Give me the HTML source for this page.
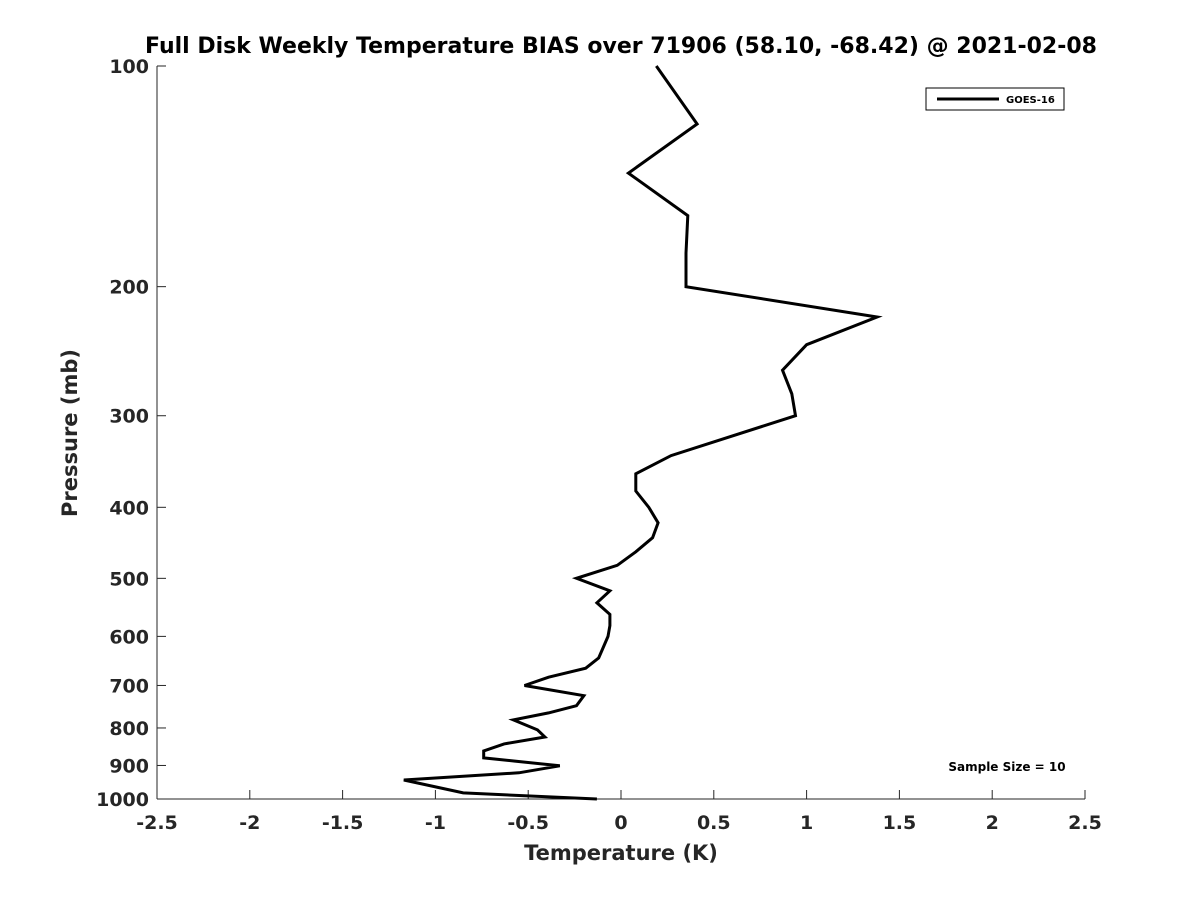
<!DOCTYPE html>
<html><head><meta charset="utf-8"><style>
html,body{margin:0;padding:0;background:#fff;}
svg{display:block;font-family:"DejaVu Sans","Liberation Sans",sans-serif;}
</style></head><body>
<svg id="chart" width="1200" height="900" viewBox="0 0 1200 900">
<text x="621" y="53" text-anchor="middle" font-size="22" font-weight="bold">Full Disk Weekly Temperature BIAS over 71906 (58.10, -68.42) @ 2021-02-08</text>
<g id="axes"></g>
<g id="series"></g>
<g>
<rect x="926" y="88" width="138" height="22" fill="#fff" stroke="#000" stroke-width="1"/>
<line x1="937" y1="99" x2="999" y2="99" stroke="#000" stroke-width="3"/>
<text x="1006" y="103" font-size="10" font-weight="bold">GOES-16</text>
</g>
<text x="1007" y="771" text-anchor="middle" font-size="12" font-weight="bold">Sample Size = 10</text>
<text x="621" y="860" text-anchor="middle" font-size="21" font-weight="bold" fill="#262626">Temperature (K)</text>
<text transform="translate(77,433) rotate(-90)" text-anchor="middle" font-size="21" font-weight="bold" fill="#262626">Pressure (mb)</text>
</svg>
<script>
const xTicks = [-2.5,-2,-1.5,-1,-0.5,0,0.5,1,1.5,2,2.5];
const yTicks = [100,200,300,400,500,600,700,800,900,1000];
const temperature = [0.19,0.41,0.04,0.36,0.35,0.35,1.38,1.00,0.87,0.92,0.94,0.27,0.08,0.08,0.15,0.20,0.17,0.08,-0.02,-0.24,-0.06,-0.13,-0.06,-0.06,-0.07,-0.10,-0.12,-0.19,-0.39,-0.52,-0.20,-0.24,-0.39,-0.58,-0.45,-0.41,-0.63,-0.74,-0.74,-0.33,-0.55,-1.17,-0.85,-0.13];
const pressure = [100,120,140,160,180,200,220,240,260,280,300,340,360,380,400,420,440,460,480,500,520,540,560,580,600,625,642,663,682,700,723,746,763,780,805,823,841,860,879,901,921,942,981,1000];
const X0=157,X1=1085,Y0=66,Y1=799;
const xs=v=>X0+(v+2.5)/5*(X1-X0);
const ys=p=>Y0+Math.log10(p/100)*(Y1-Y0);
const NS="http://www.w3.org/2000/svg";
const axes=document.getElementById('axes');
function mk(tag,attrs,parent){const e=document.createElementNS(NS,tag);for(const k in attrs)e.setAttribute(k,attrs[k]);parent.appendChild(e);return e;}
const xl=mk('line',{x1:X0,y1:Y1,x2:X1,y2:Y1,stroke:'#262626','stroke-width':1},axes);


const yl=mk('line',{x1:X0,y1:Y0,x2:X0,y2:Y1,stroke:'#262626','stroke-width':1},axes);


xTicks.forEach(v=>{
  const x=xs(v);
  const t=mk('line',{x1:x,y1:Y1,x2:x,y2:Y1-9,stroke:'#262626'},axes);
  
  
  const l=mk('text',{x:x,y:Y1+30,'text-anchor':'middle','font-size':19,'font-weight':'bold',fill:'#262626'},axes);
  l.textContent=String(v);
  
  
});
yTicks.forEach(p=>{
  const y=ys(p);
  const t=mk('line',{x1:X0,y1:y,x2:X0+9,y2:y,stroke:'#262626'},axes);
  
  
  const l=mk('text',{x:X0-8,y:y+7,'text-anchor':'end','font-size':19,'font-weight':'bold',fill:'#262626'},axes);
  l.textContent=String(p);
  
  
});
const pts=temperature.map((t,i)=>xs(t).toFixed(1)+','+ys(pressure[i]).toFixed(1)).join(' ');
const line=mk('polyline',{points:pts,fill:'none',stroke:'#000','stroke-width':3,'stroke-linejoin':'miter'},document.getElementById('series'));


</script>
</body></html>
